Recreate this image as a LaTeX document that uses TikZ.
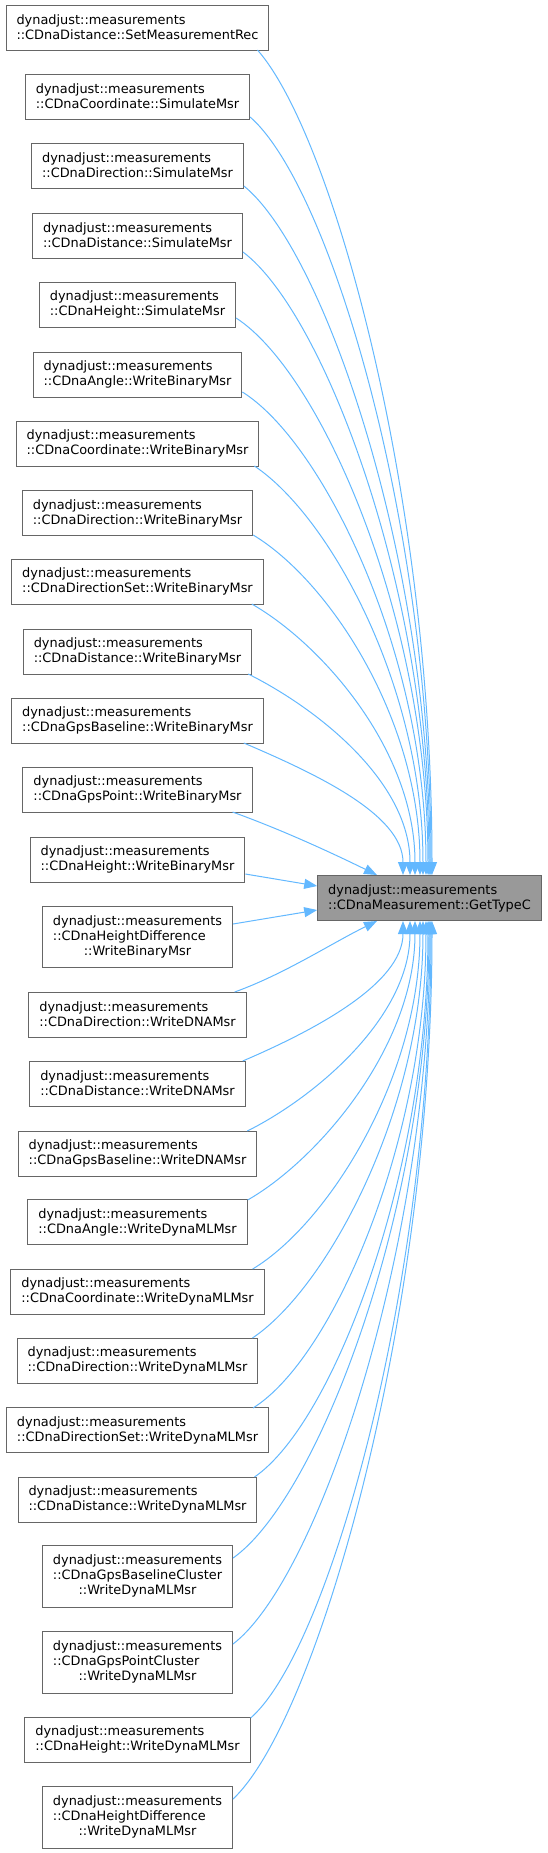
\documentclass[tikz,border=0pt]{standalone}
\usepackage{fontspec}
\setmainfont{DejaVu Sans}
\usetikzlibrary{arrows.meta}

\definecolor{boxline}{HTML}{666666}
\definecolor{hlfill}{HTML}{999999}
\definecolor{callblue}{HTML}{63B8FF}

% two lines left, last line centred
\newcommand{\threelbl}[3]{\begin{tabular}{@{}l@{}}#1\\#2\\\multicolumn{1}{@{}c@{}}{#3}\end{tabular}}

\begin{document}
\begin{tikzpicture}[x=1pt, y=-1pt,
    font=\fontsize{12.9}{15}\selectfont,
    fn/.style={draw=boxline, line width=1pt, fill=white, align=left,
      inner xsep=10.5pt, inner ysep=2pt, minimum height=45pt},
    fn3/.style={fn, minimum height=61.5pt},
    call/.style={draw=callblue, line width=1pt, -{Triangle[length=13pt, width=10pt]}}]
  \useasboundingbox (0,0) rectangle (547,1853);
  % called function
  \node[fn, fill=hlfill] (gettype) at (429.5,898) {dynadjust::measurements\\::CDnaMeasurement::GetTypeC};
  % callers
  \node[fn] (distSet) at (137.5,27.5) {dynadjust::measurements\\::CDnaDistance::SetMeasurementRec};
  \node[fn] (coordSim) at (137.5,96.5) {dynadjust::measurements\\::CDnaCoordinate::SimulateMsr};
  \node[fn] (dirSim) at (137.5,165.5) {dynadjust::measurements\\::CDnaDirection::SimulateMsr};
  \node[fn] (distSim) at (137.5,235.5) {dynadjust::measurements\\::CDnaDistance::SimulateMsr};
  \node[fn] (hgtSim) at (137.5,304.5) {dynadjust::measurements\\::CDnaHeight::SimulateMsr};
  \node[fn] (angBin) at (137.5,374.5) {dynadjust::measurements\\::CDnaAngle::WriteBinaryMsr};
  \node[fn] (coordBin) at (137.5,443.5) {dynadjust::measurements\\::CDnaCoordinate::WriteBinaryMsr};
  \node[fn] (dirBin) at (137.5,513) {dynadjust::measurements\\::CDnaDirection::WriteBinaryMsr};
  \node[fn] (dirsetBin) at (137.5,581.5) {dynadjust::measurements\\::CDnaDirectionSet::WriteBinaryMsr};
  \node[fn] (distBin) at (137.5,651.5) {dynadjust::measurements\\::CDnaDistance::WriteBinaryMsr};
  \node[fn] (gpsblBin) at (137.5,720.5) {dynadjust::measurements\\::CDnaGpsBaseline::WriteBinaryMsr};
  \node[fn] (gpsptBin) at (137.5,789.5) {dynadjust::measurements\\::CDnaGpsPoint::WriteBinaryMsr};
  \node[fn] (hgtBin) at (137.5,859.5) {dynadjust::measurements\\::CDnaHeight::WriteBinaryMsr};
  \node[fn3] (hdiffBin) at (137.5,937) {\threelbl{dynadjust::measurements}{::CDnaHeightDifference}{::WriteBinaryMsr}};
  \node[fn] (dirDna) at (137.5,1014.5) {dynadjust::measurements\\::CDnaDirection::WriteDNAMsr};
  \node[fn] (distDna) at (137.5,1083.5) {dynadjust::measurements\\::CDnaDistance::WriteDNAMsr};
  \node[fn] (gpsblDna) at (137.5,1153.5) {dynadjust::measurements\\::CDnaGpsBaseline::WriteDNAMsr};
  \node[fn] (angXml) at (137.5,1222) {dynadjust::measurements\\::CDnaAngle::WriteDynaMLMsr};
  \node[fn] (coordXml) at (137.5,1291.5) {dynadjust::measurements\\::CDnaCoordinate::WriteDynaMLMsr};
  \node[fn] (dirXml) at (137.5,1360.5) {dynadjust::measurements\\::CDnaDirection::WriteDynaMLMsr};
  \node[fn] (dirsetXml) at (137.5,1430) {dynadjust::measurements\\::CDnaDirectionSet::WriteDynaMLMsr};
  \node[fn] (distXml) at (137.5,1499.5) {dynadjust::measurements\\::CDnaDistance::WriteDynaMLMsr};
  \node[fn3] (gpsblclXml) at (137.5,1576.5) {\threelbl{dynadjust::measurements}{::CDnaGpsBaselineCluster}{::WriteDynaMLMsr}};
  \node[fn3] (gpsptclXml) at (137.5,1662.5) {\threelbl{dynadjust::measurements}{::CDnaGpsPointCluster}{::WriteDynaMLMsr}};
  \node[fn] (hgtXml) at (137.5,1739.5) {dynadjust::measurements\\::CDnaHeight::WriteDynaMLMsr};
  \node[fn3] (hdiffXml) at (137.5,1817.5) {\threelbl{dynadjust::measurements}{::CDnaHeightDifference}{::WriteDynaMLMsr}};
  % calls arriving from above
  \foreach \src/\sx/\sy/\ax/\ay/\ey/\tx in {
      distSet/-12/22.5/75/85/-380/2.5, coordSim/0/20.5/80/70/-350/1.5,
      dirSim/0/20.5/80/65/-317/0.5, distSim/0/16.5/80/60/-287/-0.5,
      hgtSim/0/13.5/85/55/-257/-1.5, angBin/0/17.5/80/50/-223/-3.5,
      coordBin/-5/22.5/75/50/-189/-6.5, dirBin/0/22/75/45/-157/-9.5,
      dirsetBin/-12/22.5/70/40/-125/-14.5, distBin/-4/22.5/70/35/-93/-19.5,
      gpsblBin/-20/22.5/70/30/-61/-26.5}
    \draw[call] ([shift={(\sx,\sy)}]\src.east) .. controls +(\ax,\ay) and +(0,\ey) .. ([xshift=\tx]gettype.north);
  % calls arriving from below
  \foreach \src/\sx/\sy/\ax/\ay/\ey/\tx in {
      distDna/-3/-22.5/70/-30/63/-26.5, gpsblDna/-10/-22.5/70/-35/95/-19.5,
      angXml/0/-22/70/-40/126/-14.5, coordXml/-12/-22.5/75/-45/157/-9.5,
      dirXml/-6/-22.5/75/-50/188/-6.5, dirsetXml/-16/-22/80/-50/220/-3.5,
      distXml/-3/-22.5/80/-55/250/-1.5, gpsblclXml/0/-18.5/85/-60/287/-0.5,
      gpsptclXml/0/-18.5/85/-65/326/0.5, hgtXml/0/-21.5/80/-70/359/1.5,
      hdiffXml/0/-18.5/85/-80/395/2.5}
    \draw[call] ([shift={(\sx,\sy)}]\src.east) .. controls +(\ax,\ay) and +(0,\ey) .. ([xshift=\tx]gettype.south);
  % the near ones
  \draw[call] ([shift={(-20,22.5)}]gpsptBin.east) .. controls +(50,18) and +(-45,-22) .. ([xshift=-52.5]gettype.north);
  \draw[call] ([shift={(0,14.5)}]hgtBin.east) -- ([shift={(0,-12)}]gettype.west);
  \draw[call] ([shift={(0,-13)}]hdiffBin.east) -- ([shift={(0,12)}]gettype.west);
  \draw[call] ([shift={(-12,-22.5)}]dirDna.east) .. controls +(50,-18) and +(-45,22) .. ([xshift=-52.5]gettype.south);
\end{tikzpicture}
\end{document}
